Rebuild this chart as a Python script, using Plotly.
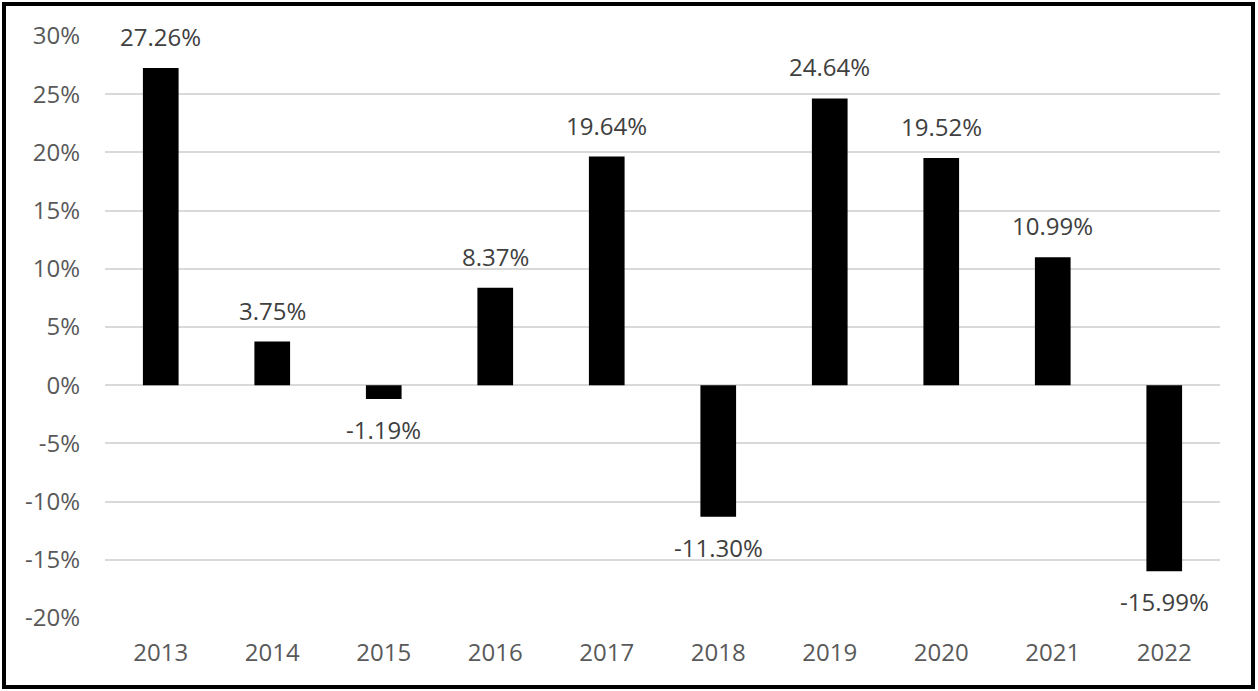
import plotly.graph_objects as go

years = ["2013", "2014", "2015", "2016", "2017", "2018", "2019", "2020", "2021", "2022"]
returns = [27.26, 3.75, -1.19, 8.37, 19.64, -11.30, 24.64, 19.52, 10.99, -15.99]
labels = [f"{v:.2f}%" for v in returns]
y_ticks = [-20, -15, -10, -5, 0, 5, 10, 15, 20, 25, 30]
y_tick_text = [f"{v}%" for v in y_ticks]

W, H = 1258, 691
ml, mr, mt, mb = 105, 38, 36, 73
pw, ph = W - ml - mr, H - mt - mb
FS = 24

fig = go.Figure(go.Bar(
    x=years, y=returns,
    marker=dict(color="black", line=dict(width=0)),
    hoverinfo="x+y",
))

annotations = []
for i, (v, lab) in enumerate(zip(returns, labels)):
    pos = v >= 0
    annotations.append(dict(
        x=i, y=v, xref="x", yref="y", text=lab, showarrow=False,
        yanchor="bottom" if pos else "top",
        yshift=13 if pos else -12,
        font=dict(family="Open Sans", size=FS, color="#404040"),
    ))

fig.update_layout(
    width=W, height=H,
    margin=dict(l=ml, r=mr, t=mt, b=mb),
    paper_bgcolor="white", plot_bgcolor="white",
    bargap=0.68, showlegend=False,
    font=dict(family="Open Sans", size=FS, color="#595959"),
    xaxis=dict(type="category", categoryorder="array", categoryarray=years,
               range=[-0.5, len(years) - 0.5],
               showgrid=False, showline=False, ticks="",
               ticklabelstandoff=18,
               tickfont=dict(size=FS, color="#595959")),
    yaxis=dict(range=[-20, 30], tickvals=y_ticks, ticktext=y_tick_text,
               tickmode="array",
               showgrid=True, gridcolor="#d9d9d9", gridwidth=2,
               zeroline=True, zerolinecolor="#d9d9d9", zerolinewidth=2,
               showline=False, ticks="", ticklabelstandoff=24,
               tickfont=dict(size=FS, color="#595959")),
    annotations=annotations,
    shapes=[dict(type="rect", xref="paper", yref="paper",
                 x0=(4 - ml) / pw, x1=(W - 5 - ml) / pw,
                 y0=(H - mb - (H - 4)) / ph, y1=(H - mb - 4) / ph,
                 line=dict(color="black", width=4), layer="above")],
)

fig.write_html("out.html", config={"displayModeBar": False},
               post_script="document.body.style.margin='0';document.body.style.overflow='hidden';")
